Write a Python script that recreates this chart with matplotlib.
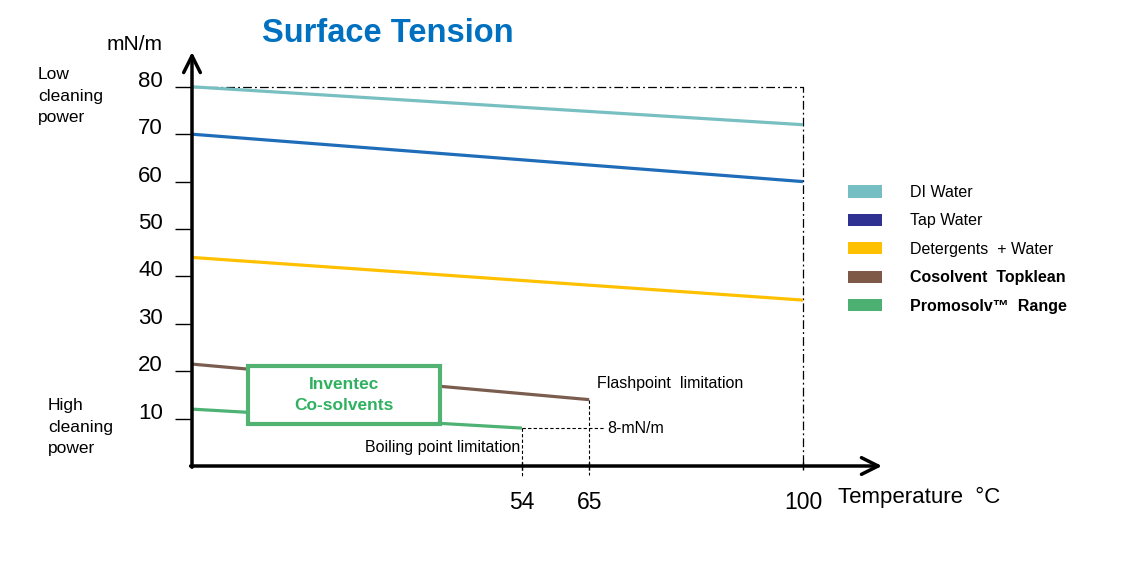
import matplotlib.pyplot as plt
from matplotlib.patches import Patch, Rectangle
from matplotlib.transforms import ScaledTranslation

plt.rcParams["font.family"] = ["Liberation Sans", "DejaVu Sans"]

# surface tension (mN/m) at 0 °C and at the last temperature of each line
series = ["DI Water", "Tap Water", "Detergents  + Water", "Cosolvent  Topklean", "Promosolv\u2122  Range"]
x_end = [100, 100, 100, 65, 54]
y_start = [80, 70, 44, 21.5, 12]
y_end = [72, 60, 35, 14, 8]
line_colors = ["#78BFC2", "#1F6DB8", "#FFC000", "#7B5D50", "#4DB274"]
legend_colors = ["#74BEC4", "#2E3192", "#FFC000", "#7F5947", "#4CB072"]
bold = [False, False, False, True, True]

y_ticks = [10, 20, 30, 40, 50, 60, 70, 80]
x_ticks = [54, 65, 100]

W, H = 1130, 585
fig = plt.figure(figsize=(W / 100, H / 100), dpi=100)
ax = fig.add_axes([192 / W, 119 / H, 690 / W, 414 / H])
ax.set_xlim(0, 690 / 6.11)
ax.set_ylim(0, 414 / 4.74)
for s in ax.spines.values():
    s.set_visible(False)

for name, xe, y0, y1, c in zip(series, x_end, y_start, y_end, line_colors):
    ax.plot([0, xe], [y0, y1], color=c, lw=2.3, solid_capstyle="butt", zorder=3)

# dash-dot frame at 80 mN/m / 100 °C
ax.plot([0, 100, 100], [80, 80, 0], color="black", lw=0.9,
        ls=(0, (7, 2.5, 1.5, 2.5)), zorder=2)

# limitation guides
guide = dict(color="black", lw=0.8, ls=(0, (3, 2)), clip_on=False, zorder=2)
ax.plot([x_end[4], x_end[4]], [y_end[4], -2.5], **guide)
ax.plot([x_end[3], x_end[3]], [y_end[3], -2.0], **guide)
ax.plot([x_end[4], 67.6], [y_end[4], y_end[4]], **guide)

ax.text(66.3, 17.3, "Flashpoint  limitation", va="center", fontsize=11.5)
ax.text(68.0, 8, "8-mN/m", va="center", fontsize=11.5)
ax.text(28.3, 4.0, "Boiling point limitation", va="center", fontsize=11.5)

# Inventec box
ax.add_patch(Rectangle((9.2, 8.9), 31.4, 12.2, fc="white", ec="#52B272", lw=3, zorder=4))
ax.text(24.9, 15.0, "Inventec\nCo-solvents", ha="center", va="center", fontsize=12.5,
        fontweight="bold", color="#2FB160", linespacing=1.5, zorder=5)

# axes with arrow heads
arrow = dict(arrowstyle="->,head_length=1.2,head_width=0.6", lw=2.5, color="black",
             shrinkA=0, shrinkB=0)
ax.annotate("", xy=(1, 0), xytext=(-0.002, 0), xycoords="axes fraction",
            arrowprops=arrow, annotation_clip=False)
ax.annotate("", xy=(0, 1), xytext=(0, -0.003), xycoords="axes fraction",
            arrowprops=arrow, annotation_clip=False)

ax.set_yticks(y_ticks)
ax.set_xticks(x_ticks)
ax.tick_params(axis="y", direction="out", length=12.5, width=1, pad=8.5, labelsize=16)
ax.tick_params(axis="x", direction="inout", length=6, width=1, pad=15, labelsize=16.5)
shift = ScaledTranslation(0, 0.08, fig.dpi_scale_trans)
for lbl in ax.get_yticklabels():
    lbl.set_transform(lbl.get_transform() + shift)

handles = [Patch(facecolor=c, edgecolor="none") for c in legend_colors]
leg = ax.legend(handles, series, loc="upper left", bbox_to_anchor=(848 / W, 1 - 185 / H),
                bbox_transform=fig.transFigure, frameon=False, fontsize=11.5,
                handlelength=2.1, handleheight=0.8, handletextpad=1.8,
                labelspacing=0.84, borderpad=0, borderaxespad=0)
for t, b in zip(leg.get_texts(), bold):
    if b:
        t.set_fontweight("bold")

fig.text(262 / W, 1 - 33 / H, "Surface Tension", color="#0070C0", fontsize=23.5,
         fontweight="bold", va="center")
fig.text(163 / W, 1 - 45 / H, "mN/m", ha="right", va="center", fontsize=15)
fig.text(38 / W, 1 - 67 / H, "Low\ncleaning\npower", va="top", fontsize=12.5, linespacing=1.55)
fig.text(48 / W, 1 - 398 / H, "High\ncleaning\npower", va="top", fontsize=12.5, linespacing=1.55)
fig.text(838 / W, 1 - 503 / H, "Temperature  \u00b0C", va="baseline", fontsize=16)

fig.savefig("out.png", dpi=100)
